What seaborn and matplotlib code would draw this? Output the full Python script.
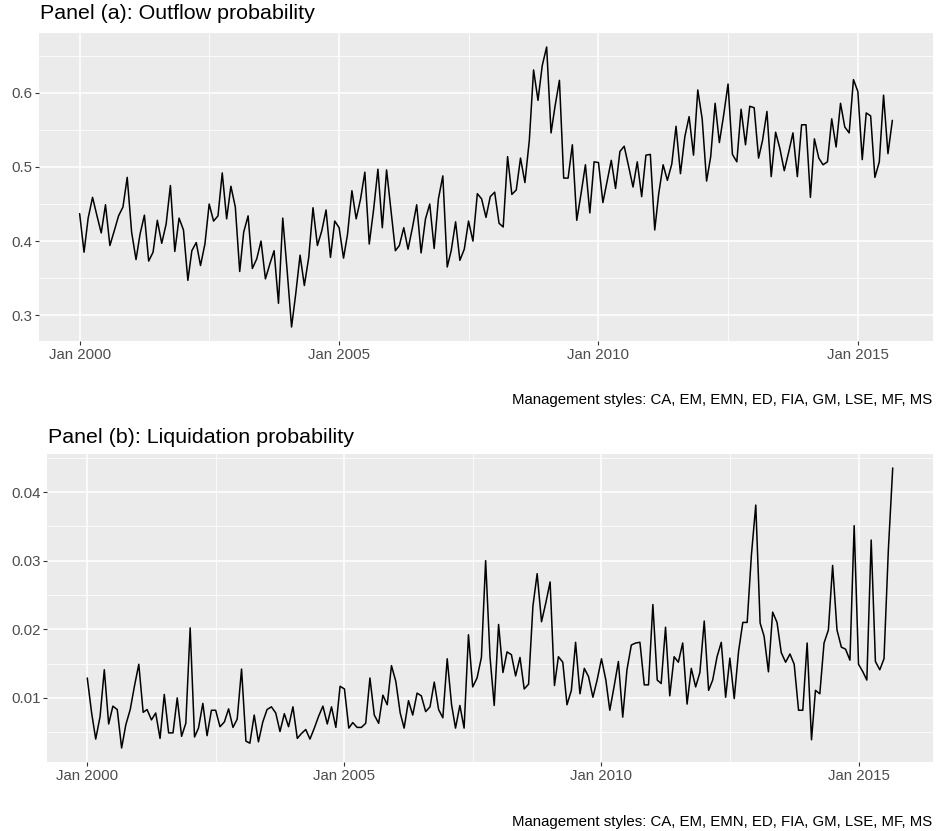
import numpy as np
import pandas as pd
import matplotlib
matplotlib.use("Agg")
import matplotlib.pyplot as plt
import matplotlib.dates as mdates
from matplotlib.ticker import FixedLocator, NullFormatter
import seaborn as sns

# Monthly series, Jan 2000 - Sep 2015
start_month = "2000-01-01"

outflow = [
    0.437, 0.385, 0.431, 0.459, 0.435, 0.411, 0.449, 0.394, 0.414, 0.434,
    0.446, 0.486, 0.412, 0.375, 0.409, 0.435, 0.373, 0.385, 0.428, 0.397,
    0.423, 0.475, 0.386, 0.431, 0.415, 0.347, 0.387, 0.398, 0.367, 0.396,
    0.450, 0.427, 0.434, 0.492, 0.430, 0.474, 0.446, 0.359, 0.412, 0.434,
    0.363, 0.376, 0.400, 0.349, 0.369, 0.387, 0.316, 0.431, 0.360, 0.284,
    0.328, 0.381, 0.340, 0.378, 0.445, 0.394, 0.414, 0.442, 0.378, 0.427,
    0.418, 0.377, 0.409, 0.468, 0.430, 0.457, 0.493, 0.396, 0.443, 0.497,
    0.418, 0.496, 0.441, 0.387, 0.394, 0.418, 0.389, 0.418, 0.449, 0.384,
    0.430, 0.450, 0.390, 0.457, 0.488, 0.365, 0.387, 0.426, 0.374, 0.389,
    0.427, 0.400, 0.464, 0.457, 0.432, 0.460, 0.466, 0.424, 0.419, 0.514,
    0.463, 0.469, 0.512, 0.479, 0.536, 0.631, 0.590, 0.637, 0.662, 0.546,
    0.582, 0.617, 0.485, 0.485, 0.530, 0.428, 0.465, 0.503, 0.438, 0.507,
    0.506, 0.452, 0.479, 0.509, 0.471, 0.521, 0.528, 0.501, 0.473, 0.507,
    0.460, 0.516, 0.517, 0.415, 0.464, 0.503, 0.482, 0.504, 0.555, 0.491,
    0.541, 0.568, 0.516, 0.604, 0.565, 0.481, 0.514, 0.586, 0.533, 0.571,
    0.612, 0.517, 0.507, 0.578, 0.530, 0.582, 0.580, 0.512, 0.536, 0.575,
    0.487, 0.547, 0.525, 0.495, 0.520, 0.546, 0.487, 0.557, 0.557, 0.459,
    0.538, 0.512, 0.503, 0.507, 0.565, 0.527, 0.586, 0.554, 0.546, 0.618,
    0.602, 0.510, 0.573, 0.569, 0.486, 0.507, 0.597, 0.518, 0.563,
]

liquidation = [
    0.0129, 0.0078, 0.0040, 0.0073, 0.0141, 0.0062, 0.0088, 0.0083, 0.0027, 0.0061,
    0.0083, 0.0117, 0.0149, 0.0079, 0.0083, 0.0068, 0.0078, 0.0041, 0.0105, 0.0049,
    0.0049, 0.0100, 0.0044, 0.0063, 0.0202, 0.0043, 0.0056, 0.0092, 0.0045, 0.0082,
    0.0082, 0.0058, 0.0065, 0.0084, 0.0057, 0.0069, 0.0142, 0.0037, 0.0034, 0.0075,
    0.0036, 0.0065, 0.0083, 0.0087, 0.0078, 0.0051, 0.0077, 0.0058, 0.0087, 0.0041,
    0.0048, 0.0054, 0.0040, 0.0056, 0.0073, 0.0088, 0.0062, 0.0087, 0.0057, 0.0117,
    0.0113, 0.0056, 0.0064, 0.0057, 0.0057, 0.0063, 0.0129, 0.0075, 0.0063, 0.0104,
    0.0090, 0.0147, 0.0124, 0.0078, 0.0056, 0.0096, 0.0075, 0.0107, 0.0103, 0.0080,
    0.0087, 0.0123, 0.0083, 0.0071, 0.0157, 0.0090, 0.0056, 0.0089, 0.0056, 0.0192,
    0.0116, 0.0129, 0.0159, 0.0300, 0.0160, 0.0089, 0.0207, 0.0137, 0.0167, 0.0163,
    0.0132, 0.0159, 0.0113, 0.0120, 0.0234, 0.0281, 0.0211, 0.0238, 0.0269, 0.0118,
    0.0160, 0.0152, 0.0090, 0.0111, 0.0181, 0.0106, 0.0143, 0.0131, 0.0101, 0.0126,
    0.0157, 0.0126, 0.0082, 0.0117, 0.0153, 0.0072, 0.0141, 0.0177, 0.0180, 0.0181,
    0.0119, 0.0119, 0.0236, 0.0126, 0.0121, 0.0203, 0.0103, 0.0160, 0.0152, 0.0180,
    0.0091, 0.0143, 0.0116, 0.0137, 0.0212, 0.0111, 0.0126, 0.0160, 0.0181, 0.0101,
    0.0158, 0.0099, 0.0168, 0.0210, 0.0210, 0.0308, 0.0381, 0.0209, 0.0190, 0.0138,
    0.0225, 0.0210, 0.0166, 0.0152, 0.0164, 0.0149, 0.0082, 0.0082, 0.0180, 0.0039,
    0.0111, 0.0106, 0.0180, 0.0199, 0.0293, 0.0199, 0.0174, 0.0171, 0.0155, 0.0351,
    0.0149, 0.0138, 0.0126, 0.0330, 0.0153, 0.0141, 0.0157, 0.0316, 0.0435,
]

titles = ["Panel (a): Outflow probability", "Panel (b): Liquidation probability"]
caption = "Management styles: CA, EM, EMN, ED, FIA, GM, LSE, MF, MS"
y_major = [[0.3, 0.4, 0.5, 0.6], [0.01, 0.02, 0.03, 0.04]]
y_labels = [["0.3", "0.4", "0.5", "0.6"], ["0.01", "0.02", "0.03", "0.04"]]
y_minor = [[0.35, 0.45, 0.55, 0.65], [0.005, 0.015, 0.025, 0.035, 0.045]]
x_major = ["2000-01-01", "2005-01-01", "2010-01-01", "2015-01-01"]
x_minor = ["2002-07-02 12:00", "2007-07-02 12:00", "2012-07-02 12:00"]

dates = pd.date_range(start_month, periods=len(outflow), freq="MS")
df = pd.DataFrame({"date": dates, "outflow": outflow, "liquidation": liquidation})

sns.set_theme(style="darkgrid")
plt.rcParams["font.family"] = ["Liberation Sans", "DejaVu Sans"]

W, H = 937, 831
fig = plt.figure(figsize=(W / 100, H / 100), dpi=100)
fig.patch.set_facecolor("white")

# panel boxes in pixels: left, top, right, bottom
boxes = [(39, 33, 933, 341), (47, 454, 933, 762)]
title_y = [19, 443]
caption_y = [404, 826]

GRID = "white"
TEXT_TICK = "#4D4D4D"
TICK_SIZE = 10.8
TITLE_SIZE = 15.4

def expand(lo, hi, frac=0.05):
    r = hi - lo
    return lo - frac * r, hi + frac * r

xnum = mdates.date2num(df["date"])
xlim = expand(xnum.min(), xnum.max())

for i, col in enumerate(["outflow", "liquidation"]):
    l, t, r, b = boxes[i]
    ax = fig.add_axes([l / W, 1 - b / H, (r - l) / W, (b - t) / H])
    ax.set_facecolor("#EBEBEB")
    sns.lineplot(data=df, x="date", y=col, ax=ax, color="black", linewidth=1.1)
    ax.set_xlim(*xlim)
    ax.set_ylim(*expand(df[col].min(), df[col].max()))
    ax.set_xlabel("")
    ax.set_ylabel("")

    ax.xaxis.set_major_locator(FixedLocator(mdates.date2num(pd.to_datetime(x_major))))
    ax.xaxis.set_minor_locator(FixedLocator(mdates.date2num(pd.to_datetime(x_minor))))
    ax.xaxis.set_major_formatter(mdates.DateFormatter("%b %Y"))
    ax.xaxis.set_minor_formatter(NullFormatter())
    ax.yaxis.set_major_locator(FixedLocator(y_major[i]))
    ax.set_yticklabels(y_labels[i])
    ax.yaxis.set_minor_locator(FixedLocator(y_minor[i]))

    ax.grid(which="major", color=GRID, linewidth=1.1)
    ax.grid(which="minor", color=GRID, linewidth=0.55)
    ax.set_axisbelow(True)
    for s in ax.spines.values():
        s.set_visible(False)

    ax.tick_params(which="major", length=2.7, width=0.8, color="#333333",
                   labelcolor=TEXT_TICK, labelsize=TICK_SIZE, pad=2.0, direction="out")
    ax.tick_params(which="minor", length=0)
    ax.tick_params(axis="x", bottom=True)
    ax.tick_params(axis="y", left=True)

    fig.text(l / W + 1 / W, 1 - title_y[i] / H, titles[i], ha="left", va="baseline",
             fontsize=TITLE_SIZE, color="black")
    fig.text(932 / W, 1 - caption_y[i] / H, caption, ha="right", va="baseline",
             fontsize=TICK_SIZE, color="black")

fig.savefig("out.png", dpi=100, facecolor="white")
